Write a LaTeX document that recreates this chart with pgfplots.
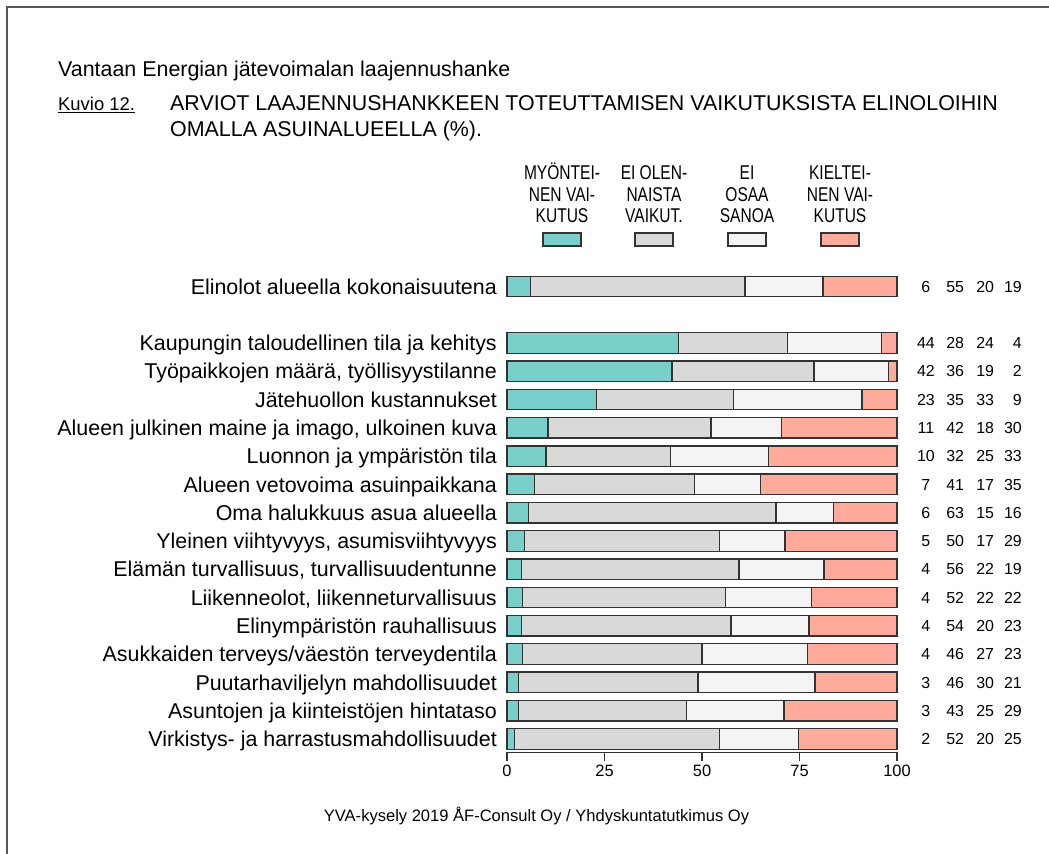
\documentclass[border=0pt]{standalone}
\usepackage{pgfplots}
\pgfplotsset{compat=1.18}
\usepackage{pgfplotstable}
\usepackage{fontspec}
\setmainfont{Liberation Sans}
\usepackage{graphicx}

\definecolor{tealc}{HTML}{7BCFCB}
\definecolor{grayc}{HTML}{D9D9D9}
\definecolor{whitec}{HTML}{F4F4F4}
\definecolor{salmonc}{HTML}{FFAA9A}
\definecolor{framec}{HTML}{555555}

\pgfplotstableread[col sep=semicolon]{
y;cat;a;b;c;d;n1;n2;n3;n4
0;Elinolot alueella kokonaisuutena;6;55;20;19;6;55;20;19
-2;Kaupungin taloudellinen tila ja kehitys;44;28;24;4;44;28;24;4
-3;Työpaikkojen määrä, työllisyystilanne;42.3;36.4;19.2;2.1;42;36;19;2
-4;Jätehuollon kustannukset;23;35;33;9;23;35;33;9
-5;Alueen julkinen maine ja imago, ulkoinen kuva;10.5;41.8;18;29.7;11;42;18;30
-6;Luonnon ja ympäristön tila;10;32;25;33;10;32;25;33
-7;Alueen vetovoima asuinpaikkana;7;41;17;35;7;41;17;35
-8;Oma halukkuus asua alueella;5.6;63.4;14.8;16.2;6;63;15;16
-9;Yleinen viihtyvyys, asumisviihtyvyys;4.5;50;16.8;28.7;5;50;17;29
-10;Elämän turvallisuus, turvallisuudentunne;3.8;55.7;21.8;18.7;4;56;22;19
-11;Liikenneolot, liikenneturvallisuus;4;52;22;22;4;52;22;22
-12;Elinympäristön rauhallisuus;3.8;53.6;20;22.6;4;54;20;23
-13;Asukkaiden terveys/väestön terveydentila;4;46;27;23;4;46;27;23
-14;Puutarhaviljelyn mahdollisuudet;3;46;30;21;3;46;30;21
-15;Asuntojen ja kiinteistöjen hintataso;3;43;25;29;3;43;25;29
-16;Virkistys- ja harrastusmahdollisuudet;2;52.5;20.3;25.2;2;52;20;25
}\data

\pgfplotsset{
  common/.style={
    at={(507bp,101.5bp)}, anchor=south west,
    scale only axis, width=390bp, height=480.2bp,
    xmin=0, xmax=100, ymin=-16.48, ymax=0.5,
    clip=false,
  },
  seg/.style={draw=black!80, line width=1.3bp},
  lab/.style={only marks, mark=none,
    nodes near coords, point meta=explicit symbolic},
}

\begin{document}
\begin{tikzpicture}
\path[use as bounding box] (0bp,0bp) rectangle (1049bp,854bp);
\draw[framec, line width=2.2bp] (7bp,-5bp) -- (7bp,847bp) -- (1055bp,847bp);

% titles
\node[anchor=base west, inner sep=0pt, font=\fontsize{21.5}{25}\selectfont] at (58bp,777bp) {Vantaan Energian jätevoimalan laajennushanke};
\node[anchor=base west, inner sep=0pt, font=\fontsize{18.5}{22}\selectfont] at (58bp,743bp) {\underline{Kuvio 12.}};
\node[anchor=base west, inner sep=0pt, font=\fontsize{21.5}{25}\selectfont] at (170bp,743bp) {ARVIOT LAAJENNUSHANKKEEN TOTEUTTAMISEN VAIKUTUKSISTA ELINOLOIHIN};
\node[anchor=base west, inner sep=0pt, font=\fontsize{21.5}{25}\selectfont] at (170bp,717bp) {OMALLA ASUINALUEELLA (\%).};

% legend
\foreach \cx/\la/\lb/\lc/\col in {562/MYÖNTEI-/NEN VAI-/KUTUS/tealc, 654/EI OLEN-/NAISTA/VAIKUT./grayc, 747/EI/OSAA/SANOA/whitec, 840/KIELTEI-/NEN VAI-/KUTUS/salmonc}{
  \node[anchor=base, inner sep=0pt, font=\fontsize{20}{24}\selectfont] at (\cx bp,674bp) {\scalebox{0.78}[1]{\la}};
  \node[anchor=base, inner sep=0pt, font=\fontsize{20}{24}\selectfont] at (\cx bp,652bp) {\scalebox{0.78}[1]{\lb}};
  \node[anchor=base, inner sep=0pt, font=\fontsize{20}{24}\selectfont] at (\cx bp,631bp) {\scalebox{0.78}[1]{\lc}};
  \pgfmathsetmacro\xl{\cx-19}
  \pgfmathsetmacro\xr{\cx+19}
  \draw[fill=\col, draw=black!80, line width=1.5bp] (\xl bp,608bp) rectangle (\xr bp,621bp);
}

\begin{axis}[common,
  xbar stacked, bar width=20.5bp,
  axis x line*=bottom, axis y line=none,
  xtick={0,25,50,75,100}, ytick=\empty,
  tick align=outside, major tick length=9bp,
  x axis line style={line width=1.3bp, black!80, -},
  xtick style={line width=1.1bp, black!80},
  xticklabel style={font=\fontsize{16.5}{18}\selectfont},
  /pgf/number format/assume math mode=true,
]
\addplot[seg, fill=tealc] table[x=a, y=y]{\data};
\addplot[seg, fill=grayc] table[x=b, y=y]{\data};
\addplot[seg, fill=whitec] table[x=c, y=y]{\data};
\addplot[seg, fill=salmonc] table[x=d, y=y]{\data};
\end{axis}

\begin{axis}[common, hide axis]
\addplot[lab, nodes near coords style={anchor=base east, inner sep=0pt, xshift=-10bp, yshift=-7.7bp, font=\fontsize{21.5}{25}\selectfont}] table[x expr=0, y=y, meta=cat]{\data};
\addplot[lab, nodes near coords style={anchor=base, inner sep=0pt, yshift=-5.7bp, font=\fontsize{16}{18}\selectfont}] table[x expr=107.4, y=y, meta=n1]{\data};
\addplot[lab, nodes near coords style={anchor=base, inner sep=0pt, yshift=-5.7bp, font=\fontsize{16}{18}\selectfont}] table[x expr=114.9, y=y, meta=n2]{\data};
\addplot[lab, nodes near coords style={anchor=base, inner sep=0pt, yshift=-5.7bp, font=\fontsize{16}{18}\selectfont}] table[x expr=122.6, y=y, meta=n3]{\data};
\addplot[lab, nodes near coords style={anchor=base east, inner sep=0pt, yshift=-5.7bp, font=\fontsize{16}{18}\selectfont}] table[x expr=132.05, y=y, meta=n4]{\data};
\end{axis}

\node[anchor=base, inner sep=0pt, font=\fontsize{16.6}{19}\selectfont] at (536.5bp,33bp) {YVA-kysely 2019 ÅF-Consult Oy / Yhdyskuntatutkimus Oy};
\end{tikzpicture}
\end{document}
